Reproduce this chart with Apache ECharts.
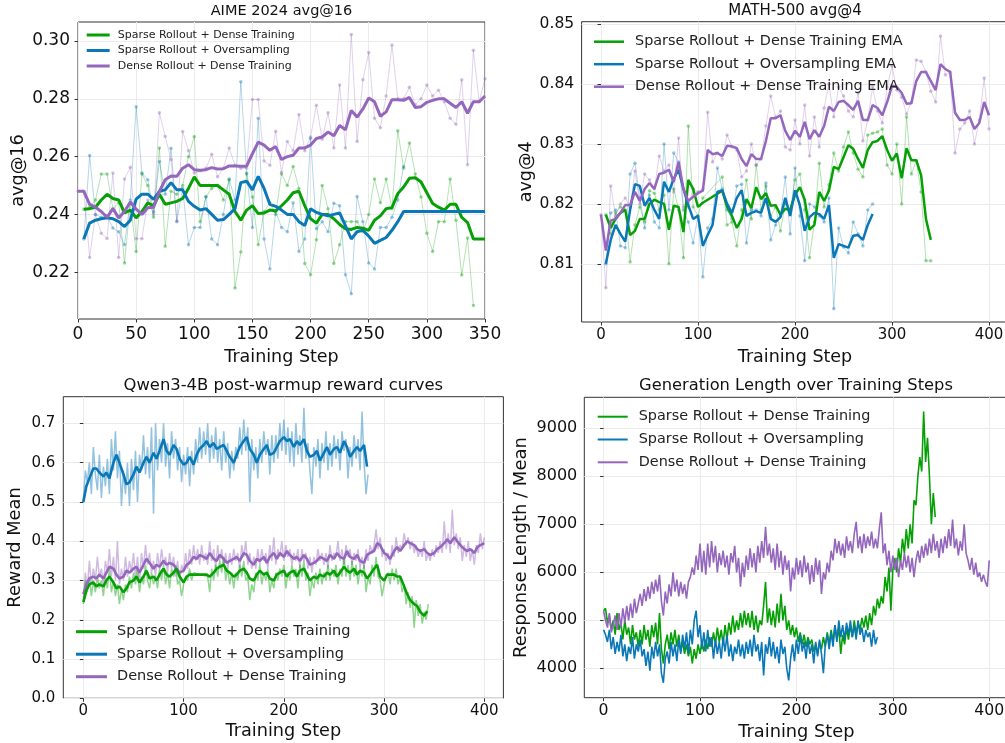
<!DOCTYPE html>
<html><head><meta charset="utf-8">
<script src="https://cdn.jsdelivr.net/npm/echarts@6/dist/echarts.min.js"></script>
<style>html,body{margin:0;padding:0;background:#fff}#c{width:1005px;height:743px}</style>
</head><body><div id="c"></div>
<script>
const NAME_SD = 'Sparse Rollout + Dense Training';
const NAME_SO = 'Sparse Rollout + Oversampling';
const NAME_DD = 'Dense Rollout + Dense Training';
const C_G = '#06a006', C_B = '#0a77b7', C_P = '#9467bd';
const FONT = 'DejaVu Sans';

// ---------- Panel 1: AIME 2024 avg@16 (every 5 steps) ----------
const aimeGreenRawStart = 5;
const aimeGreenRaw = [.2418,.2425,.2450,.2540,.2540,.2420,.2440,.2232,.2440,.2272,
 .2540,.2500,.2390,.2630,.2290,.2480,.2470,.2500,.2600,.2670,
 .2375,.2460,.2490,.2500,.2450,.2520,.2145,.2270,.2540,.2460,
 .2295,.2410,.2440,.2400,.2540,.2500,.2566,.2490,.2230,.2191,
 .2312,.2500,.2420,.2230,.2295,.2375,.2375,.2375,.2340,.2400,
 .2523,.2440,.2523,.2420,.2690,.2560,.2647,.2540,.2460,.2335,
 .2272,.2375,.2375,.2523,.2380,.2190,.2318,.2085];
const aimeGreenEmaStart = 5;
const aimeGreenEma = [.2418,.2420,.2425,.2450,.2470,.2455,.2450,.2405,.2415,.2388,
 .2410,.2440,.2430,.2470,.2435,.2440,.2445,.2455,.2490,.2530,
 .2500,.2500,.2500,.2500,.2485,.2470,.2410,.2380,.2415,.2430,
 .2403,.2405,.2415,.2412,.2430,.2450,.2475,.2480,.2430,.2385,
 .2370,.2400,.2400,.2385,.2365,.2350,.2348,.2355,.2352,.2345,
 .2380,.2395,.2420,.2423,.2472,.2495,.2525,.2527,.2512,.2475,
 .2438,.2425,.2415,.2435,.2435,.2390,.2372,.2315,.2315,.2315];
const aimeBlueRawStart = 5;
const aimeBlueRaw = [.2315,.2604,.2400,.2390,.2395,.2353,.2340,.2295,.2450,.2773,
 .2543,.2520,.2408,.2583,.2470,.2629,.2376,.2490,.2295,.2355,
 .2355,.2462,.2315,.2295,.2400,.2523,.2450,.2859,.2543,.2355,
 .2733,.2315,.2211,.2410,.2355,.2340,.2440,.2272,.2315,.2664,
 .2350,.2375,.2340,.2439,.2430,.2191,.2125,.2462,.2375,.2232,
 .2211,.2355,.2355,.2390,.2450,.2566];
const aimeBlueEmaStart = 5;
const aimeBlueEma = [.2315,.2370,.2380,.2385,.2388,.2385,.2375,.2358,.2380,.2453,
 .2470,.2470,.2452,.2480,.2485,.2510,.2485,.2485,.2445,.2428,
 .2415,.2420,.2400,.2380,.2382,.2400,.2420,.2510,.2515,.2485,
 .2532,.2490,.2435,.2428,.2415,.2400,.2400,.2375,.2362,.2420,
 .2407,.2400,.2395,.2400,.2405,.2360,.2315,.2340,.2345,.2325,
 .2300,.2310,.2320,.2345,.2375,.2410,.2410,.2410,.2410,.2410,
 .2410,.2410,.2410,.2410,.2410,.2410,.2410,.2410,.2410,.2410];
const aimePurpleRawStart = 0;
const aimePurpleRaw = [.2480,.2480,.2251,.2400,.2335,.2317,.2543,.2251,.2523,.2563,
 .2316,.2316,.2450,.2400,.2752,.2670,.2590,.2375,.2687,.2620,
 .2543,.2550,.2560,.2608,.2530,.2560,.2630,.2570,.2560,.2560,
 .2798,.2798,.2585,.2570,.2688,.2545,.2652,.2620,.2746,.2620,
 .2668,.2778,.2660,.2752,.2630,.2848,.2630,.3023,.2652,.2866,
 .2960,.2733,.2700,.2810,.2986,.2800,.2800,.2840,.2780,.2800,
 .2848,.2810,.2830,.2790,.2733,.2712,.2866,.2572,.2968,.2790,
 .2870];
const aimePurpleEmaStart = 0;
const aimePurpleEma = [.2480,.2480,.2435,.2425,.2410,.2390,.2420,.2388,.2410,.2443,
 .2418,.2400,.2423,.2425,.2480,.2520,.2533,.2532,.2560,.2572,
 .2555,.2553,.2555,.2562,.2557,.2558,.2568,.2568,.2567,.2567,
 .2610,.2650,.2640,.2622,.2635,.2590,.2600,.2605,.2630,.2630,
 .2640,.2663,.2668,.2685,.2672,.2708,.2693,.2760,.2737,.2765,
 .2803,.2790,.2740,.2755,.2797,.2797,.2795,.2805,.2770,.2773,
 .2788,.2795,.2800,.2800,.2785,.2770,.2790,.2750,.2790,.2790,
 .2810];

// ---------- Panel 2: MATH-500 avg@4 (every 5 steps) ----------
const mathGreenRawStart = 5;
const mathGreenRaw = [.8182,.8150,.8185,.8195,.8190,.8103,.8165,.8195,.8170,.8222,
 .8218,.8190,.8215,.8100,.8225,.8190,.8110,.8330,.8195,.8180,
 .8210,null,null,null,.8245,.8165,.8170,.8130,.8190,.8240,
 .8175,.8265,.8190,.8230,.8180,.8195,.8155,.8200,.8190,.8240,
 .8250,.8190,.8110,.8170,.8268,.8195,.8232,.8285,.8255,.8295,
 .8320,.8285,.8258,.8245,.8315,.8318,.8320,.8325,.8265,.8250,
 .8300,.8200,.8345,.8250,.8272,.8220,.8105,.8105];
const mathGreenEmaStart = 5;
const mathGreenEma = [.8182,.8160,.8175,.8185,.8190,.8148,.8155,.8175,.8175,.8200,
 .8207,.8203,.8200,.8157,.8197,.8195,.8153,.8240,.8225,.8195,
 .8202,null,null,null,.8222,.8195,.8180,.8160,.8175,.8208,
 .8193,.8228,.8208,.8218,.8197,.8198,.8182,.8192,.8190,.8215,
 .8228,.8207,.8157,.8165,.8220,.8205,.8222,.8262,.8258,.8278,
 .8298,.8292,.8275,.8260,.8290,.8303,.8305,.8313,.8290,.8272,
 .8284,.8243,.8293,.8273,.8273,.8248,.8175,.8140];
const mathBlueRawStart = 5;
const mathBlueRaw = [.8100,.8185,.8190,.8130,.8127,.8250,.8268,.8210,.8160,.8215,
 .8170,.8160,.8300,.8190,.8285,.8270,.8190,.8170,.8135,.8180,
 .8078,.8160,.8175,.8260,.8225,.8190,.8175,.8230,.8233,.8135,
 .8190,.8190,.8180,.8235,.8140,.8165,.8180,.8245,.8150,.8260,
 .8180,.8105,.8200,.8195,.8180,.8170,.8210,.8025,.8160,.8128,
 .8118,.8170,.8150,.8130,.8190,.8200];
const mathBlueEmaStart = 5;
const mathBlueEma = [.8100,.8140,.8165,.8150,.8137,.8190,.8233,.8230,.8197,.8210,
 .8190,.8175,.8237,.8220,.8242,.8257,.8225,.8198,.8175,.8180,
 .8130,.8148,.8165,.8220,.8223,.8200,.8185,.8210,.8223,.8180,
 .8185,.8188,.8185,.8210,.8175,.8170,.8178,.8210,.8180,.8223,
 .8198,.8155,.8178,.8185,.8183,.8175,.8198,.8110,.8133,.8130,
 .8127,.8147,.8148,.8140,.8165,.8183];
const mathPurpleRawStart = 0;
const mathPurpleRaw = [.8182,.8060,.8230,.8180,.8200,.8210,.8195,.8255,.8200,.8250,
 .8240,.8225,.8280,.8255,.8265,.8220,.8310,.8195,.8195,.8225,
 .8220,.8225,.8353,.8270,.8285,.8275,.8315,.8295,.8290,.8245,
 .8255,.8300,.8265,.8275,.8330,.8380,.8345,.8355,.8295,.8290,
 .8340,.8300,.8365,.8280,.8345,.8295,.8360,.8400,.8345,.8395,
 .8380,.8355,.8345,.8385,.8305,.8340,.8395,.8355,.8335,.8395,
 .8430,.8390,.8378,.8350,.8370,.8440,.8438,.8420,.8388,.8370,
 .8480,.8415,.8420,.8285,.8325,.8335,.8355,.8300,.8340,.8410,
 .8325];
const mathPurpleEmaStart = 0;
const mathPurpleEma = [.8182,.8122,.8172,.8175,.8185,.8198,.8198,.8220,.8205,.8225,
 .8235,.8225,.8250,.8252,.8257,.8237,.8270,.8225,.8205,.8212,
 .8218,.8222,.8290,.8283,.8285,.8280,.8297,.8296,.8293,.8275,
 .8263,.8283,.8275,.8275,.8305,.8343,.8343,.8348,.8322,.8307,
 .8322,.8312,.8337,.8308,.8323,.8312,.8330,.8362,.8355,.8370,
 .8372,.8365,.8357,.8372,.8340,.8340,.8365,.8360,.8348,.8370,
 .8397,.8395,.8385,.8367,.8368,.8405,.8420,.8420,.8405,.8390,
 .8433,.8425,.8420,.8352,.8340,.8340,.8345,.8325,.8335,.8370,
 .8348];

// ---------- Panel 3: Qwen3-4B reward (raw every 2 steps, EMA at steps 0,3,6,10,13,16,...) ----------
const rewardBlueRaw = [.50,.58,.55,.60,.52,.64,.57,.53,.62,.51,
 .59,.54,.61,.52,.66,.58,.68,.56,.63,.49,
 .58,.52,.60,.49,.61,.53,.63,.50,.62,.58,
 .67,.57,.64,.56,.69,.47,.70,.58,.66,.60,
 .70,.59,.65,.56,.68,.61,.66,.58,.64,.55,
 .62,.57,.64,.54,.63,.57,.66,.60,.69,.61,
 .68,.62,.70,.60,.67,.61,.69,.60,.66,.58,
 .68,.60,.65,.56,.63,.58,.64,.61,.69,.62,
 .71,.63,.69,.50,.66,.58,.64,.56,.66,.60,
 .68,.62,.66,.57,.67,.60,.67,.61,.70,.63,
 .71,.62,.69,.60,.68,.59,.70,.62,.67,.60,
 .74,.61,.65,.58,.52,.64,.59,.66,.56,.65,
 .60,.68,.58,.65,.59,.67,.61,.66,.58,.68,
 .63,.66,.56,.64,.59,.67,.61,.66,.58,.73,
 .60,.52,.57];
const rewardPurpleRaw = [.25,.32,.28,.35,.29,.33,.30,.36,.31,.33,
 .29,.35,.32,.38,.31,.36,.30,.40,.29,.33,
 .30,.36,.31,.35,.32,.37,.31,.36,.30,.37,
 .33,.39,.34,.37,.32,.35,.31,.37,.33,.38,
 .34,.36,.32,.37,.33,.36,.31,.35,.30,.34,
 .32,.37,.33,.38,.34,.39,.35,.38,.34,.39,
 .35,.37,.34,.40,.35,.38,.33,.39,.35,.38,
 .34,.37,.33,.37,.34,.38,.35,.37,.33,.39,
 .36,.40,.34,.37,.33,.36,.33,.38,.34,.38,
 .35,.37,.33,.39,.35,.41,.34,.38,.36,.40,
 .35,.39,.36,.38,.34,.37,.35,.38,.33,.38,
 .35,.37,.33,.36,.32,.36,.34,.38,.35,.37,
 .34,.37,.33,.39,.35,.37,.36,.40,.35,.38,
 .34,.39,.36,.38,.34,.37,.35,.38,.33,.36,
 .33,.38,.35,.39,.37,.39,.43,.38,.41,.36,
 .38,.35,.37,.34,.39,.36,.41,.37,.39,.38,
 .42,.39,.41,.38,.40,.37,.39,.36,.38,.36,
 .40,.35,.37,.35,.38,.36,.39,.37,.40,.37,
 .45,.38,.42,.37,.48,.39,.42,.38,.41,.35,
 .39,.36,.40,.35,.38,.34,.39,.37,.42,.38,
 .41];
const rewardGreenRaw = [.24,.30,.27,.31,.26,.30,.27,.31,.28,.30,
 .26,.31,.28,.33,.27,.30,.26,.29,.24,.28,
 .25,.29,.27,.31,.28,.32,.29,.33,.27,.31,
 .29,.34,.30,.28,.32,.29,.31,.28,.33,.30,
 .34,.29,.32,.28,.33,.31,.34,.29,.30,.26,
 .29,.31,.30,.33,.30,.32,null,null,null,null,
 null,null,.31,.27,.33,.30,.34,.31,.35,.32,
 .36,.30,.33,.29,.32,.28,.32,.30,.34,.31,
 .35,.30,.31,.25,.29,.27,.32,.30,.34,.29,
 .32,.30,.33,.27,.30,.28,.32,.30,.33,.31,
 .34,.28,.32,.30,.34,.31,.33,.28,.34,.31,
 .35,.30,.32,.26,.30,.28,.32,.29,.33,.29,
 .32,.30,.34,.30,.33,.31,.34,.29,.33,.31,
 .36,.31,.34,.30,.35,.31,.34,.29,.33,.31,
 .34,.27,.31,.29,.34,.31,.36,.31,.30,.26,
 .29,.31,.32,.29,.33,.30,.33,.29,.31,.27,
 .29,.24,.27,.23,.26,.18,.25,.21,.24,.19,
 .22,.20,.24];
const rewardBlueEma = [.50,.54,.56, .585,.585,.575, .565,.575,.56, .60,.62,.60,
 .57,.545,.55, .57,.59,.575, .60,.615,.60, .625,.61,.63, .66,.63,.62,
 .645,.635,.61, .595,.60,.615, .595,.62,.635, .645,.655,.64, .65,.635,.64,
 .645,.63,.615, .60,.62,.64, .655,.665,.635, .62,.60,.62, .635,.645,.62,
 .625,.64,.655, .665,.655,.66, .64,.655,.645, .66,.63,.615, .62,.63,.605,
 .625,.64,.62, .635,.64,.625, .655,.64,.615, .63,.64,.63, .645,.59];
const rewardPurpleEma = [.265,.29,.305, .31,.305,.315, .305,.32,.335, .33,.315,.305,
 .31,.325,.32, .33,.335,.32, .34,.355,.345, .33,.34,.335, .35,.34,.345,
 .34,.33,.32, .325,.34,.345, .36,.355,.365, .36,.355,.37, .355,.35,.365,
 .355,.345,.35, .355,.36,.35, .37,.365,.35, .34,.355,.35, .36,.345,.36,
 .37,.355,.37, .36,.375,.365, .355,.36,.35, .365,.355,.34, .345,.35,.36,
 .355,.35,.365, .355,.37,.36, .355,.375,.36, .355,.365,.35, .345,.365,.37,
 .375,.395,.39, .37,.365,.355, .375,.385,.375, .39,.40,.395, .39,.38,.375,
 .38,.37,.365, .37,.38,.385, .395,.405,.395, .41,.40,.39, .38,.375,.38,
 .37,.385,.39, .395];
const rewardGreenEma = [.245,.275,.29, .295,.285,.29, .285,.30,.31, .295,.28,.285,
 .27,.28,.295, .30,.31,.295, .31,.325,.305, .31,.30,.315, .33,.315,.31,
 .32,.33,.31, .295,.31,.315, .315,null,null, null,.315,.31, .32,.33,.335,
 .34,.325,.32, .31,.315,.325, .33,.32,.305, .30,.315,.325, .315,.32,.305,
 .30,.315,.32, .325,.31,.32, .325,.31,.325, .33,.315,.30, .31,.305,.315,
 .31,.32,.315, .325,.31,.32, .335,.325,.32, .33,.315,.325, .32,.305,.315,
 .33,.34,.31, .30,.315,.315, .315,.31,.31, .285,.265,.25, .24,.235,.22,
 .21,.222];

// ---------- Panel 4: Response length (every 2 steps) ----------
const lenGreen = [5200,5250,4950,5100,4800,5000,4700,5150,4800,4950,
 4600,5000,4700,4850,4500,4900,4600,4750,4450,4800,
 4500,4900,4600,4800,4450,4900,4650,4950,4500,5150,
 4400,4100,4500,4700,4400,4750,4500,4800,4450,4700,
 4350,4550,4300,4500,4250,4450,4100,4400,4200,4500,
 4300,4550,4350,4600,4400,4650,4450,4750,4500,4850,
 4550,4800,4500,4900,4600,4950,4700,5100,4750,5000,
 4800,5150,4850,5200,4900,5150,4850,5200,4800,5100,
 4750,5000,4900,5300,5800,4950,5250,4900,5200,4850,
 5350,4950,5550,5000,5300,4800,5000,4700,4900,4650,
 4850,4550,4750,4500,4700,4450,4650,4500,4600,4350,
 4500,4300,4550,4400,4650,4450,4750,4500,4800,4550,
 4900,4600,4850,4300,4700,4500,4850,4600,4900,4650,
 5000,4700,4950,4800,5050,4850,5100,4800,5150,4900,
 5300,5100,5450,5250,5500,5350,5900,5600,6100,5200,
 6050,6300,6000,6500,6200,6700,6400,6900,6500,7000,
 6600,7500,7400,8000,8400,8100,9350,8300,8800,8000,
 7000,7650,7150];
const lenBlue = [4800,4700,4550,4800,4400,4650,4300,4550,4350,4700,
 4250,4500,4150,4450,4300,4650,4200,4500,4350,4600,
 4250,4400,4050,4350,3950,4450,4200,4550,4250,4500,
 3900,3700,4200,4350,4100,4550,4250,4500,4150,4600,
 4300,4700,4400,4750,4300,4800,4500,5000,5200,4650,
 4900,4400,4750,4350,4800,4450,4650,4200,4600,4300,
 4550,4200,4650,4350,4700,4250,4500,4150,4450,4300,
 4600,4250,4500,4200,4550,4300,4600,4250,4700,4350,
 4500,4150,4550,3850,4500,4300,4650,4250,4550,4200,
 4450,4100,4600,4300,4450,4000,3750,4200,4500,4150,
 4600,4300,4700,4350,4550,4200,4600,4300,4500,4100,
 4550,4250,4600,4300,3900,4500,4700,4400,4750,4450,
 4900,4550,5000,4650,4900,4600,4950,4700,5000,4650,
 4900,4600,5000,4700,4850,4550,4800,4650,4750,4450,
 4800,4500,4650];
const lenPurple = [5200,5000,4850,5150,4750,4900,5100,4800,5150,4850,
 5250,4950,5300,5000,5350,5050,5450,5150,5350,5550,
 5300,5650,5400,5700,5450,5800,5550,5850,5600,5950,
 5400,5100,5600,5350,5750,5500,6000,5600,5850,5500,
 5800,5550,5750,5450,5800,5900,6100,5950,6350,6050,
 6600,6000,6450,5950,6600,6100,6650,6200,6550,6000,
 6400,6150,6450,6100,6350,5950,6400,6200,6550,6000,
 6300,5700,6200,5900,6350,6050,6500,6100,6400,6000,
 6550,6200,6650,6300,6950,6350,6600,6200,6500,6050,
 6600,6100,6450,5950,6350,6050,6250,5600,6100,5850,
 6300,5950,6250,5900,6350,6000,6200,5750,6150,5800,
 6300,5950,6250,5550,6000,5850,6200,6000,6450,6250,
 6700,6400,6650,6350,6600,6300,6750,6450,6650,6400,
 6800,7050,6500,6750,6400,6800,6500,6750,6550,6850,
 6500,6700,6500,6900,7250,6400,6600,6150,6450,6000,
 6350,6050,6300,5900,6250,6050,6400,6100,6350,6000,
 6300,5900,6250,6450,6200,6550,6300,6600,6350,6700,
 6400,6800,6450,6650,6300,6700,6400,6750,6500,6900,
 6550,7100,6500,6700,6350,6650,6450,7000,6400,6250,
 6050,6300,5950,6200,5900,6000,5800,5950,5800,5700,
 6250];

// ---------- helpers ----------
function byStride(start, stride, vals) { return vals.map((v, i) => [start + stride * i, v]); }
const emaSteps = [];
for (let d = 0; d <= 40; d++) { emaSteps.push(d * 10, d * 10 + 3, d * 10 + 6); }
function byEmaSteps(vals) { return vals.map((v, i) => [emaSteps[i], v]); }

function rawMarked(idx, color, data) {
  return { type: 'line', xAxisIndex: idx, yAxisIndex: idx, data, silent: true, z: 2,
    symbol: 'circle', symbolSize: 3.5, showSymbol: true, showAllSymbol: true, connectNulls: true,
    lineStyle: { color, width: 1, opacity: 0.3 }, itemStyle: { color, opacity: 0.4 } };
}
function rawPlain(idx, color, data, opacity, width) {
  return { type: 'line', xAxisIndex: idx, yAxisIndex: idx, data, silent: true, z: 2,
    symbol: 'none', connectNulls: true,
    lineStyle: { color, width, opacity }, itemStyle: { color } };
}
function ema(idx, name, color, data, width) {
  return { type: 'line', name, xAxisIndex: idx, yAxisIndex: idx, data, z: 3,
    symbol: 'none', connectNulls: true,
    lineStyle: { color, width }, itemStyle: { color } };
}
function fmtMultiple(step, digits, lo, hi) {
  return v => {
    const r = v / step;
    if (Math.abs(r - Math.round(r)) > 1e-6) return '';
    if (lo != null && (v < lo - 1e-9 || v > hi + 1e-9)) return '';
    return digits >= 0 ? v.toFixed(digits) : String(Math.round(v));
  };
}
const splitLine = { show: true, lineStyle: { color: '#ebebeb', width: 1 } };
function xAx(idx, min, max, opts) {
  return Object.assign({
    gridIndex: idx, type: 'value', min, max,
    axisLine: { show: false },
    axisTick: { show: true, length: 3.5, lineStyle: { color: '#333' }, customValues: opts.ticks },
    axisLabel: { fontSize: opts.fs, color: '#111', margin: opts.margin, fontFamily: FONT, formatter: opts.fmt },
    splitLine,
    name: 'Training Step', nameLocation: 'middle', nameGap: opts.nameGap,
    nameTextStyle: { fontSize: opts.nfs, color: '#111', fontFamily: FONT }
  }, opts.extra || {});
}
function yAx(idx, min, max, opts) {
  return Object.assign({
    gridIndex: idx, type: 'value', min, max,
    axisLine: { show: false },
    axisTick: { show: true, length: 3.5, lineStyle: { color: '#333' }, customValues: opts.ticks },
    axisLabel: { fontSize: opts.fs, color: '#111', margin: opts.margin, fontFamily: FONT, formatter: opts.fmt },
    splitLine,
    name: opts.name, nameLocation: 'middle', nameGap: opts.nameGap,
    nameTextStyle: { fontSize: opts.nfs, color: '#111', fontFamily: FONT }
  }, opts.extra || {});
}
function legend(left, top, iw, ih, gap, fs, pad, names, colors) {
  return { orient: 'vertical', left, top, padding: 0, itemWidth: iw, itemHeight: ih, itemGap: gap,
    selectedMode: false,
    textStyle: { fontSize: fs, lineHeight: Math.round(fs * 1.25), color: '#222', fontFamily: FONT, padding: [0, 0, 0, pad] },
    data: names.map((n, i) => ({ name: n, icon: 'rect', itemStyle: { color: colors[i] } })) };
}
const gridBase = { show: true, borderColor: '#333', borderWidth: 1, backgroundColor: 'transparent',
  containLabel: false, outerBoundsMode: 'none' };

const option = {
  animation: false,
  backgroundColor: '#fff',
  title: [
    { text: 'AIME 2024 avg@16', left: 281.5, top: 3.5, textAlign: 'center', padding: 0,
      textStyle: { fontSize: 14.5, fontWeight: 'normal', color: '#111', fontFamily: FONT } },
    { text: 'MATH-500 avg@4', left: 795, top: 3.5, textAlign: 'center', padding: 0,
      textStyle: { fontSize: 15, fontWeight: 'normal', color: '#111', fontFamily: FONT } },
    { text: 'Qwen3-4B post-warmup reward curves', left: 283.3, top: 377.5, textAlign: 'center', padding: 0,
      textStyle: { fontSize: 16.4, fontWeight: 'normal', color: '#111', fontFamily: FONT } },
    { text: 'Generation Length over Training Steps', left: 796, top: 377.8, textAlign: 'center', padding: 0,
      textStyle: { fontSize: 16.3, fontWeight: 'normal', color: '#111', fontFamily: FONT } }
  ],
  legend: [
    legend(86.7, 28, 23, 3, 1.5, 11, 3, [NAME_SD, NAME_SO, NAME_DD], [C_G, C_B, C_P]),
    legend(594, 32.7, 30, 2.5, 4.5, 14.4, 6, [NAME_SD + ' EMA', NAME_SO + ' EMA', NAME_DD + ' EMA'], [C_G, C_B, C_P]),
    legend(76, 622.7, 31, 3, 4.5, 14.5, 5, [NAME_SD, NAME_SO, NAME_DD], [C_G, C_B, C_P]),
    legend(597.7, 407.7, 30, 2, 4.8, 14.4, 6, [NAME_SD, NAME_SO, NAME_DD], [C_G, C_B, C_P])
  ],
  grid: [
    Object.assign({ left: 78, top: 22, width: 407, height: 297 }, gridBase),
    Object.assign({ left: 581.6, top: 21.7, width: 426.8, height: 300.3 }, gridBase),
    Object.assign({ left: 63.3, top: 396.7, width: 440.1, height: 301.6 }, gridBase),
    Object.assign({ left: 584.3, top: 397.3, width: 424.2, height: 300.4 }, gridBase)
  ],
  xAxis: [
    xAx(0, 0, 350, { fs: 17, margin: 7, nameGap: 29, nfs: 17.5, fmt: fmtMultiple(50, -1), ticks: [0,50,100,150,200,250,300,350], extra: { interval: 50 } }),
    xAx(1, -20, 420, { fs: 15, margin: 6, nameGap: 26, nfs: 17.5, fmt: fmtMultiple(100, -1, 0, 400), ticks: [0,100,200,300,400], extra: { splitNumber: 4 } }),
    xAx(2, -20, 419, { fs: 15, margin: 5, nameGap: 24.5, nfs: 17.7, fmt: fmtMultiple(100, -1, 0, 400), ticks: [0,100,200,300,400], extra: { splitNumber: 4 } }),
    xAx(3, -20, 420, { fs: 15.7, margin: 5.5, nameGap: 26, nfs: 17.8, fmt: fmtMultiple(100, -1, 0, 400), ticks: [0,100,200,300,400], extra: { splitNumber: 4 } })
  ],
  yAxis: [
    yAx(0, 0.2038, 0.3066, { name: 'avg@16', fs: 17, margin: 8, nameGap: 51, nfs: 17.7, fmt: fmtMultiple(0.02, 2, 0.21, 0.31), ticks: [0.22,0.24,0.26,0.28,0.30], extra: { splitNumber: 5 } }),
    yAx(1, 0.8003, 0.8504, { name: 'avg@4', fs: 15.5, margin: 7.5, nameGap: 46, nfs: 17.5, fmt: fmtMultiple(0.01, 2, 0.805, 0.855), ticks: [0.81,0.82,0.83,0.84,0.85], extra: { splitNumber: 5 } }),
    yAx(2, 0, 0.768, { name: 'Reward Mean', fs: 15, margin: 8, nameGap: 39.4, nfs: 17.8, fmt: fmtMultiple(0.1, 1, 0, 0.75), ticks: [0,0.1,0.2,0.3,0.4,0.5,0.6,0.7], extra: { interval: 0.1 } }),
    yAx(3, 3388, 9646, { name: 'Response Length / Mean', fs: 16, margin: 7, nameGap: 53.6, nfs: 18, fmt: fmtMultiple(1000, -1, 4000, 9000), ticks: [4000,5000,6000,7000,8000,9000], extra: { splitNumber: 6 } })
  ],
  series: [
    // panel 1
    rawMarked(0, C_G, byStride(aimeGreenRawStart, 5, aimeGreenRaw)),
    rawMarked(0, C_B, byStride(aimeBlueRawStart, 5, aimeBlueRaw)),
    rawMarked(0, C_P, byStride(aimePurpleRawStart, 5, aimePurpleRaw)),
    ema(0, NAME_SD, C_G, byStride(aimeGreenEmaStart, 5, aimeGreenEma), 3),
    ema(0, NAME_SO, C_B, byStride(aimeBlueEmaStart, 5, aimeBlueEma), 3),
    ema(0, NAME_DD, C_P, byStride(aimePurpleEmaStart, 5, aimePurpleEma), 3),
    // panel 2
    rawMarked(1, C_G, byStride(mathGreenRawStart, 5, mathGreenRaw)),
    rawMarked(1, C_B, byStride(mathBlueRawStart, 5, mathBlueRaw)),
    rawMarked(1, C_P, byStride(mathPurpleRawStart, 5, mathPurpleRaw)),
    ema(1, NAME_SD + ' EMA', C_G, byStride(mathGreenEmaStart, 5, mathGreenEma), 2.5),
    ema(1, NAME_SO + ' EMA', C_B, byStride(mathBlueEmaStart, 5, mathBlueEma), 2.5),
    ema(1, NAME_DD + ' EMA', C_P, byStride(mathPurpleEmaStart, 5, mathPurpleEma), 2.5),
    // panel 3
    rawPlain(2, C_B, byStride(0, 2, rewardBlueRaw), 0.45, 1.5),
    rawPlain(2, C_P, byStride(0, 2, rewardPurpleRaw), 0.45, 1.5),
    rawPlain(2, C_G, byStride(0, 2, rewardGreenRaw), 0.45, 1.5),
    ema(2, NAME_SO, C_B, byEmaSteps(rewardBlueEma), 2.6),
    ema(2, NAME_DD, C_P, byEmaSteps(rewardPurpleEma), 2.6),
    ema(2, NAME_SD, C_G, byEmaSteps(rewardGreenEma), 2.6),
    // panel 4
    ema(3, NAME_SD, C_G, byStride(0, 2, lenGreen), 1.6),
    ema(3, NAME_SO, C_B, byStride(0, 2, lenBlue), 1.6),
    ema(3, NAME_DD, C_P, byStride(0, 2, lenPurple), 1.6)
  ]
};
const chart = echarts.init(document.getElementById('c'), null, { renderer: 'canvas', width: 1005, height: 743 });
chart.setOption(option);
</script></body></html>
